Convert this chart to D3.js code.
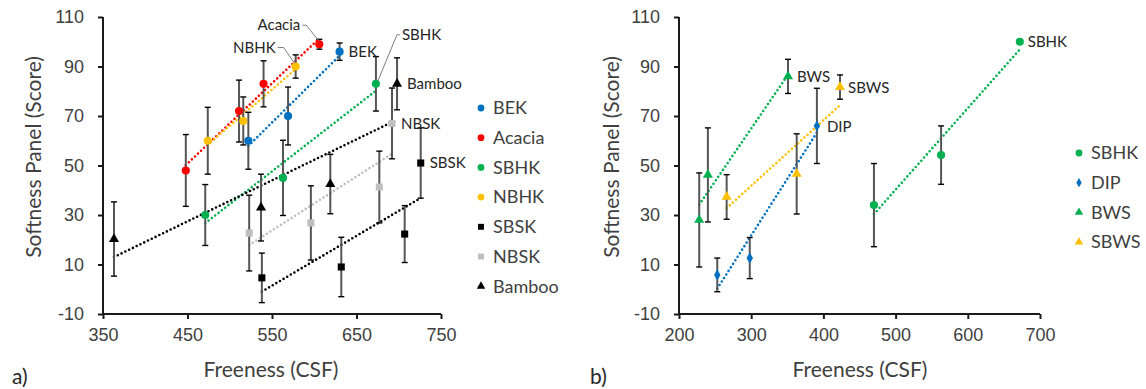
<!DOCTYPE html>
<html>
<head>
<meta charset="utf-8">
<script src="https://cdn.jsdelivr.net/npm/d3@7"></script>
<style>
  body { margin: 0; background: #fff; }
  svg { font-family: Lato, "Open Sans", sans-serif; }
</style>
</head>
<body>
<script>
// ---- data ----
// panel a)
const bekX = [522, 569, 630], bekY = [60, 70, 96], bekErr = [11.5, 11.7, 3.5];
const acaciaX = [448, 511, 540, 606], acaciaY = [48, 72, 83, 99], acaciaErr = [14.5, 12.5, 9.3, 2];
const sbhkAX = [471, 563, 673], sbhkAY = [30, 45, 83], sbhkAErr = [12.3, 15.2, 11];
const nbhkX = [474, 516, 578], nbhkY = [60, 68, 90], nbhkErr = [13.5, 9.7, 4.7];
const sbskX = [538, 632, 707, 726], sbskY = [4.6, 9, 22.3, 51], sbskErr = [10, 12, 11.5, 14.2];
const nbskX = [523, 596, 677, 692], nbskY = [22.7, 26.8, 41.3, 67], nbskErr = [15.3, 15, 14.5, 14.3];
const bambooX = [363, 537, 619, 698], bambooY = [20.3, 33, 42.5, 83], bambooErr = [15, 13.5, 12, 10.5];
// panel b)
const sbhkBX = [470, 563, 672], sbhkBY = [34, 54.2, 100], sbhkBErr = [16.8, 11.8, 0];
const dipX = [253, 298, 391], dipY = [5.8, 12.6, 66], dipErr = [6.8, 8.3, 15.2];
const bwsX = [228, 240, 351], bwsY = [28, 46.2, 86], bwsErr = [19, 19, 6.9];
const sbwsX = [266, 363, 423], sbwsY = [37.3, 46.6, 81.7], sbwsErr = [9, 16.2, 4.9];

const yTicks = [-10, 10, 30, 50, 70, 90, 110];
const xTicksA = [350, 450, 550, 650, 750];
const xTicksB = [200, 300, 400, 500, 600, 700];

const zip = (xs, ys, es) => xs.map((x, i) => ({ x, y: ys[i], e: es[i] }));

const seriesA = [
  { name: 'BEK', color: '#0070C0', shape: 'circle', pts: zip(bekX, bekY, bekErr) },
  { name: 'Acacia', color: '#FF0000', shape: 'circle', pts: zip(acaciaX, acaciaY, acaciaErr) },
  { name: 'SBHK', color: '#00B050', shape: 'circle', pts: zip(sbhkAX, sbhkAY, sbhkAErr) },
  { name: 'NBHK', color: '#FFC000', shape: 'circle', pts: zip(nbhkX, nbhkY, nbhkErr) },
  { name: 'SBSK', color: '#000000', shape: 'square', pts: zip(sbskX, sbskY, sbskErr) },
  { name: 'NBSK', color: '#BFBFBF', shape: 'square', pts: zip(nbskX, nbskY, nbskErr) },
  { name: 'Bamboo', color: '#000000', shape: 'triangle', pts: zip(bambooX, bambooY, bambooErr) }
];
const seriesB = [
  { name: 'SBHK', color: '#00B050', shape: 'circle', pts: zip(sbhkBX, sbhkBY, sbhkBErr) },
  { name: 'DIP', color: '#0070C0', shape: 'diamond', pts: zip(dipX, dipY, dipErr) },
  { name: 'BWS', color: '#00B050', shape: 'triangle', pts: zip(bwsX, bwsY, bwsErr) },
  { name: 'SBWS', color: '#FFC000', shape: 'triangle', pts: zip(sbwsX, sbwsY, sbwsErr) }
];

const svg = d3.select('body').append('svg')
  .attr('width', 1146).attr('height', 389);

const symbols = {
  circle: d3.symbolCircle, square: d3.symbolSquare,
  triangle: d3.symbolTriangle, diamond: d3.symbolDiamond
};
const symSize = { circle: 52, square: 50, triangle: 44, diamond: 36 };

// least squares trendline, like Excel's linear trendline
function fit(pts) {
  const mx = d3.mean(pts, d => d.x), my = d3.mean(pts, d => d.y);
  const sxy = d3.sum(pts, d => (d.x - mx) * (d.y - my));
  const sxx = d3.sum(pts, d => (d.x - mx) ** 2);
  const b = sxy / sxx;
  const x0 = d3.min(pts, d => d.x), x1 = d3.max(pts, d => d.x);
  return [[x0, my + b * (x0 - mx)], [x1, my + b * (x1 - mx)]];
}

function panel(opts) {
  const x = d3.scaleLinear().domain(opts.xDomain).range(opts.xRange);
  const y = d3.scaleLinear().domain([-10, 110]).range([314, 17]);
  const g = svg.append('g');

  // axes
  const ax = g.append('g').attr('transform', 'translate(0,314)')
    .call(d3.axisBottom(x).tickValues(opts.xTicks).tickSize(5).tickPadding(9).tickFormat(d => String(d)));
  const ay = g.append('g').attr('transform', `translate(${opts.xRange[0]},0)`)
    .call(d3.axisLeft(y).tickValues(yTicks).tickSize(5).tickPadding(14).tickFormat(d => String(d)));
  [ax, ay].forEach(a => {
    a.select('.domain').attr('stroke', '#1a1a1a').attr('stroke-width', 2);
    a.selectAll('.tick line').attr('stroke', '#1a1a1a').attr('stroke-width', 2);
    a.selectAll('.tick text').attr('fill', '#404040').style('font-size', '18px');
  });
  ax.select('.domain').attr('d', `M${opts.xRange[0]},0H${opts.xRange[1]}`);
  ay.select('.domain').attr('d', `M0,314V17`);

  // trendlines
  const line = d3.line().x(d => x(d[0])).y(d => y(d[1]));
  opts.series.forEach(s => {
    g.append('path').attr('d', line(fit(s.pts)))
      .attr('fill', 'none').attr('stroke', s.color)
      .attr('stroke-width', 2.6).attr('stroke-linecap', 'round')
      .attr('stroke-dasharray', '0 4.2');
  });

  // error bars
  opts.series.forEach(s => {
    const eg = g.append('g');
    s.pts.filter(d => d.e > 0).forEach(d => {
      const cx = x(d.x);
      eg.append('line').attr('x1', cx).attr('x2', cx).attr('y1', y(d.y - d.e)).attr('y2', y(d.y + d.e))
        .attr('stroke', '#555').attr('stroke-width', 2);
      [d.y - d.e, d.y + d.e].forEach(v => {
        eg.append('line').attr('x1', cx - 3).attr('x2', cx + 3).attr('y1', y(v)).attr('y2', y(v))
          .attr('stroke', '#000').attr('stroke-width', 1.4);
      });
    });
  });

  // markers
  opts.series.forEach(s => {
    g.append('g').selectAll('path').data(s.pts).join('path')
      .attr('transform', d => `translate(${x(d.x)},${y(d.y)})`)
      .attr('d', d3.symbol(symbols[s.shape], symSize[s.shape]))
      .attr('fill', s.color);
  });

  // point labels with optional leader lines
  opts.labels.forEach(l => {
    const s = opts.series.find(t => t.name === l.series);
    const p = s.pts[l.idx];
    const px = x(p.x), py = y(p.y);
    if (l.leader) {
      g.append('path').attr('d', d3.line()(l.leader.map(o => [px + o[0], py + o[1]])))
        .attr('fill', 'none').attr('stroke', '#7f7f7f').attr('stroke-width', 1);
    }
    g.append('text').attr('x', px + l.dx).attr('y', py + l.dy)
      .attr('dy', '0.35em').attr('text-anchor', l.anchor || 'start')
      .attr('fill', '#262626').style('font-size', '15px').text(l.text || l.series);
  });

  // axis titles
  g.append('text').attr('x', opts.xTitleX).attr('y', 370).attr('dy', '0.35em')
    .attr('text-anchor', 'middle').attr('fill', '#404040').style('font-size', '21px')
    .text('Freeness (CSF)');
  g.append('text').attr('transform', `translate(${opts.yTitleX},157) rotate(-90)`)
    .attr('dy', '0.35em').attr('text-anchor', 'middle').attr('fill', '#404040')
    .style('font-size', '21px').text('Softness Panel (Score)');
  g.append('text').attr('x', opts.tagX).attr('y', 377).attr('dy', '0.35em')
    .attr('fill', '#262626').style('font-size', '21px').text(opts.tag);

  // legend
  const lg = g.append('g');
  opts.series.forEach((s, i) => {
    const ly = opts.legendY + i * 29.7;
    lg.append('path').attr('transform', `translate(${opts.legendX},${ly})`)
      .attr('d', d3.symbol(symbols[s.shape], symSize[s.shape] * 0.7)).attr('fill', s.color);
    lg.append('text').attr('x', opts.legendX + 12).attr('y', ly).attr('dy', '0.35em')
      .attr('fill', '#404040').style('font-size', '18px').text(s.name);
  });
}

panel({
  xDomain: [350, 750], xRange: [103, 441], xTicks: xTicksA,
  series: seriesA, xTitleX: 271, yTitleX: 34, tag: 'a)', tagX: 12,
  legendX: 481, legendY: 108,
  labels: [
    { series: 'Acacia', idx: 3, dx: -19, dy: -19, anchor: 'end', leader: [[-1, -4], [-13, -19], [-17, -19]] },
    { series: 'NBHK', idx: 2, dx: -20, dy: -19, anchor: 'end', leader: [[-1, -3], [-12, -19], [-18, -19]] },
    { series: 'BEK', idx: 2, dx: 9, dy: 0 },
    { series: 'SBHK', idx: 2, dx: 26, dy: -49, leader: [[2, -3], [21, -49], [24, -49]] },
    { series: 'Bamboo', idx: 3, dx: 10, dy: 0 },
    { series: 'NBSK', idx: 3, dx: 9, dy: 0 },
    { series: 'SBSK', idx: 3, dx: 9, dy: 0 }
  ]
});

panel({
  xDomain: [200, 700], xRange: [679, 1040], xTicks: xTicksB,
  series: seriesB, xTitleX: 860, yTitleX: 612, tag: 'b)', tagX: 590,
  legendX: 1079, legendY: 153,
  labels: [
    { series: 'SBHK', idx: 2, dx: 8, dy: 0 },
    { series: 'DIP', idx: 2, dx: 10, dy: 1 },
    { series: 'BWS', idx: 2, dx: 9, dy: 0 },
    { series: 'SBWS', idx: 2, dx: 8, dy: 1 }
  ]
});
</script>
</body>
</html>
